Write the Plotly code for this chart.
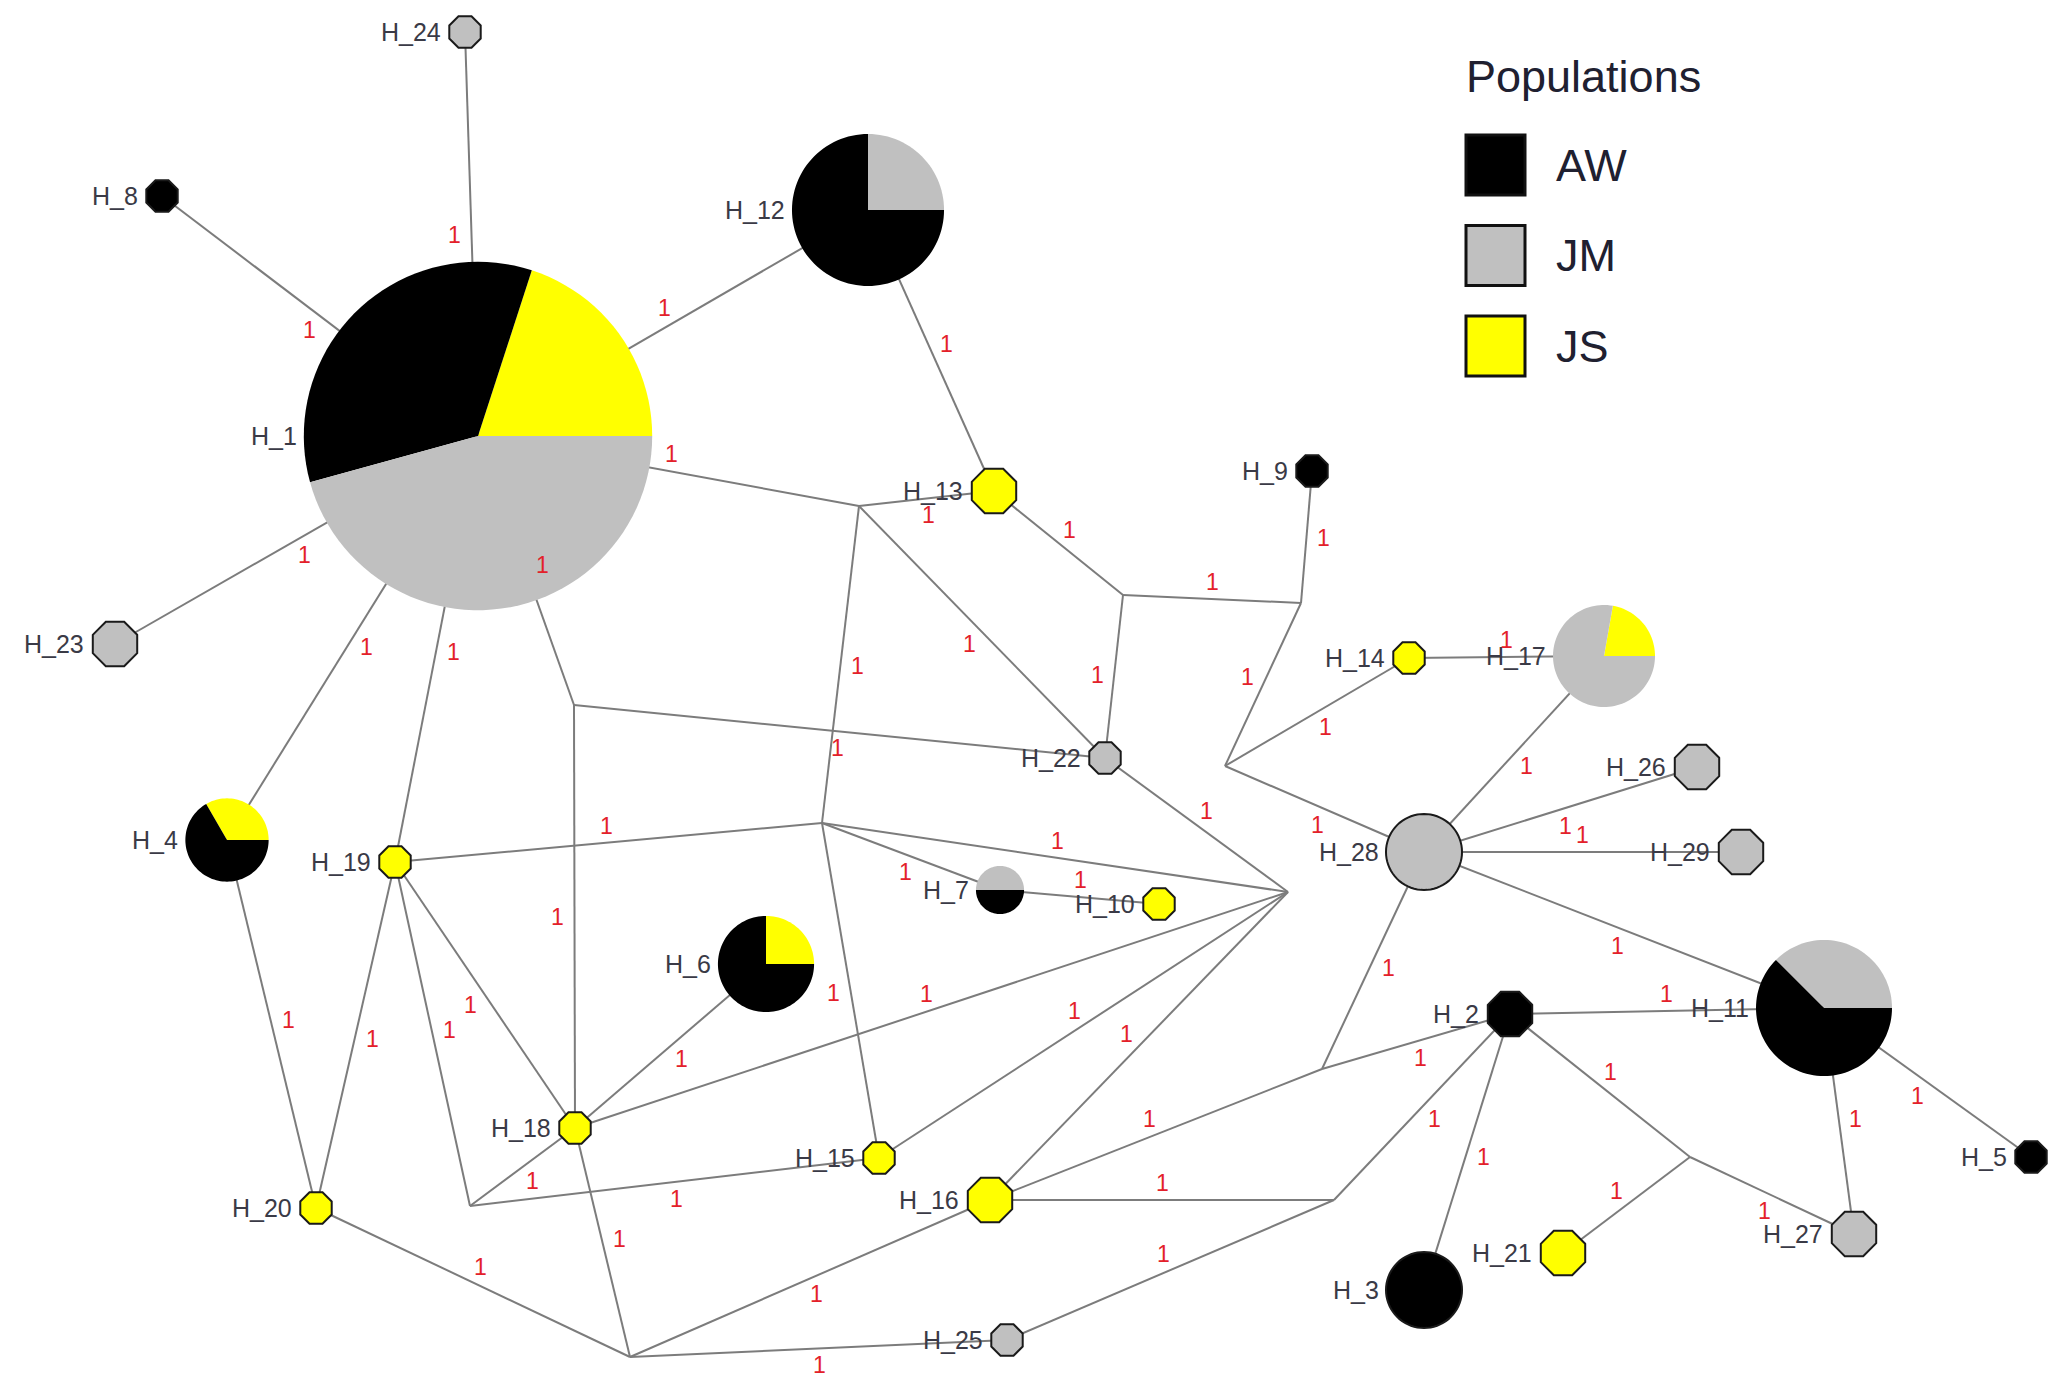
import math
import plotly.graph_objects as go

# ---------------------------------------------------------------
# Haplotype network: haplotypes, their layout and sample counts
# ---------------------------------------------------------------
populations = ["AW", "JM", "JS"]
pop_colors = {"AW": "#000000", "JM": "#c0c0c0", "JS": "#ffff00"}

haplotypes = ["H_1", "H_2", "H_3", "H_4", "H_5", "H_6", "H_7", "H_8", "H_9", "H_10",
              "H_11", "H_12", "H_13", "H_14", "H_15", "H_16", "H_17", "H_18", "H_19", "H_20",
              "H_21", "H_22", "H_23", "H_24", "H_25", "H_26", "H_27", "H_28", "H_29"]
hap_x = [478, 1510, 1424, 227, 2031, 766, 1000, 162, 1312, 1159,
         1824, 868, 994, 1409, 879, 990, 1604, 575, 395, 316,
         1563, 1105, 115, 465, 1007, 1697, 1854, 1424, 1741]
hap_y = [436, 1014, 1290, 840, 1157, 964, 890, 196, 471, 904,
         1008, 210, 491, 658, 1158, 1200, 656, 1128, 862, 1208,
         1253, 758, 644, 32, 1340, 767, 1234, 852, 852]
count_AW = [36, 2, 5, 4, 1, 6, 1, 1, 1, 0,
            10, 15, 0, 0, 0, 0, 0, 0, 0, 0,
            0, 0, 0, 0, 0, 0, 0, 0, 0]
count_JM = [48, 0, 0, 0, 0, 0, 1, 0, 0, 0,
            6, 5, 0, 0, 0, 0, 7, 0, 0, 0,
            0, 1, 2, 1, 1, 2, 2, 5, 2]
count_JS = [21, 0, 0, 2, 0, 2, 0, 0, 0, 1,
            0, 0, 2, 1, 1, 2, 2, 1, 1, 1,
            2, 0, 0, 0, 0, 0, 0, 0, 0]

# slices are laid counter-clockwise from east in this order
default_slice_order = ["JS", "JM", "AW"]
slice_order_override = {"H_1": ["JS", "AW", "JM"]}

# inferred median vectors (unsampled intermediate sequences)
median_names = ["mv_a", "mv_b", "mv_c", "mv_d", "mv_e", "mv_f",
                "mv_g", "mv_h", "mv_i", "mv_k", "mv_l", "mv_m"]
median_x = [859, 574, 822, 1123, 1301, 1225, 1288, 1322, 1690, 1334, 470, 630]
median_y = [506, 705, 823, 595, 603, 766, 892, 1069, 1157, 1200, 1206, 1357]

# edges: (from, to, number of mutations)
edges = [
    ("H_1", "H_24", 1), ("H_1", "H_8", 1), ("H_1", "H_12", 1), ("H_12", "H_13", 1),
    ("H_1", "mv_a", 1), ("H_13", "mv_a", 1), ("H_1", "H_23", 1), ("H_1", "H_4", 1),
    ("H_1", "H_19", 1), ("H_1", "mv_b", 1), ("mv_a", "mv_c", 1), ("H_22", "mv_a", 1),
    ("H_13", "mv_d", 1), ("mv_d", "mv_e", 1), ("H_9", "mv_e", 1), ("H_22", "mv_d", 1),
    ("mv_f", "mv_e", 1), ("H_14", "mv_f", 1), ("H_28", "mv_f", 1), ("H_14", "H_17", 1),
    ("H_17", "H_28", 1), ("H_26", "H_28", 1), ("H_28", "H_29", 1), ("H_11", "H_28", 1),
    ("H_28", "mv_h", 1), ("H_22", "mv_g", 1), ("H_22", "mv_b", 1), ("H_18", "mv_b", 1),
    ("H_19", "mv_c", 1), ("mv_c", "mv_g", 1), ("H_7", "mv_c", 1), ("H_15", "mv_c", 1),
    ("H_7", "H_10", 1), ("H_18", "mv_g", 1), ("H_15", "mv_g", 1), ("H_16", "mv_g", 1),
    ("H_4", "H_20", 1), ("H_19", "H_20", 1), ("H_19", "mv_l", 1), ("H_18", "H_19", 1),
    ("H_6", "H_18", 1), ("H_18", "mv_l", 1), ("H_18", "mv_m", 1), ("H_15", "mv_l", 1),
    ("H_20", "mv_m", 1), ("H_16", "mv_m", 1), ("H_25", "mv_m", 1), ("H_16", "mv_h", 1),
    ("H_16", "mv_k", 1), ("H_25", "mv_k", 1), ("H_2", "mv_k", 1), ("H_2", "mv_h", 1),
    ("H_2", "H_11", 1), ("H_2", "H_3", 1), ("H_2", "mv_i", 1), ("H_21", "mv_i", 1),
    ("H_27", "mv_i", 1), ("H_11", "H_27", 1), ("H_5", "H_11", 1),
]

# ---------------------------------------------------------------
# drawing helpers
# ---------------------------------------------------------------
W, H = 2053, 1382
RADIUS_UNIT = 17.0          # radius of a single-sample node
LABEL_OFFSET = 17.0         # mutation label distance from its edge
EDGE_COLOR = "#7c7c7c"
TEXT_COLOR = "#3a3a46"
MUT_COLOR = "#e3202a"
FONT = "Liberation Sans, Arial, sans-serif"

pos = {}
for n, x, y in zip(haplotypes, hap_x, hap_y):
    pos[n] = (x, y)
for n, x, y in zip(median_names, median_x, median_y):
    pos[n] = (x, y)


def pt(cx, cy, r, deg):
    a = math.radians(deg)
    return cx + r * math.cos(a), cy - r * math.sin(a)


def polygon_path(points):
    s = "M {:.2f},{:.2f}".format(*points[0])
    for p in points[1:]:
        s += " L {:.2f},{:.2f}".format(*p)
    return s + " Z"


def node_outline(cx, cy, r):
    if r < 30:
        return [pt(cx, cy, r, 22.5 + 45 * k) for k in range(8)]
    return [pt(cx, cy, r, 360.0 * k / 72) for k in range(72)]


def wedge(cx, cy, r, a0, a1):
    steps = max(4, int(abs(a1 - a0) / 3))
    pts = [(cx, cy)]
    for k in range(steps + 1):
        pts.append(pt(cx, cy, r, a0 + (a1 - a0) * k / steps))
    return pts


fig = go.Figure()

# edges (node centre to node centre, covered by the nodes)
ex, ey = [], []
for a, b, m in edges:
    ex += [pos[a][0], pos[b][0], None]
    ey += [pos[a][1], pos[b][1], None]
fig.add_trace(go.Scatter(x=ex, y=ey, mode="lines",
                         line=dict(color=EDGE_COLOR, width=2),
                         hoverinfo="skip", showlegend=False))

shapes = []
annotations = []

# nodes: single-population nodes are outlined polygons, mixed ones are pies
for i, name in enumerate(haplotypes):
    cx, cy = hap_x[i], hap_y[i]
    counts = {"AW": count_AW[i], "JM": count_JM[i], "JS": count_JS[i]}
    total = sum(counts.values())
    r = RADIUS_UNIT * math.sqrt(total)
    present = [p for p in populations if counts[p] > 0]
    if len(present) == 1:
        shapes.append(dict(type="path", xref="x", yref="y", layer="above",
                           path=polygon_path(node_outline(cx, cy, r)),
                           fillcolor=pop_colors[present[0]],
                           line=dict(color="#1a1a1a", width=2)))
    else:
        order = slice_order_override.get(name, default_slice_order)
        ang = 0.0
        for p in order:
            if counts[p] == 0:
                continue
            span = 360.0 * counts[p] / total
            shapes.append(dict(type="path", xref="x", yref="y", layer="above",
                               path=polygon_path(wedge(cx, cy, r, ang, ang + span)),
                               fillcolor=pop_colors[p],
                               line=dict(width=0)))
            ang += span
    annotations.append(dict(x=cx - r - 5, y=cy, xref="x", yref="y", text=name,
                            showarrow=False, xanchor="right", yanchor="middle",
                            font=dict(family=FONT, size=25, color=TEXT_COLOR)))

# mutation counts beside each edge midpoint (left of the edge direction)
for a, b, m in edges:
    (x0, y0), (x1, y1) = pos[a], pos[b]
    dx, dy = x1 - x0, y1 - y0
    ln = math.hypot(dx, dy)
    nx, ny = dy / ln, -dx / ln
    annotations.append(dict(x=(x0 + x1) / 2 + LABEL_OFFSET * nx,
                            y=(y0 + y1) / 2 + LABEL_OFFSET * ny,
                            xref="x", yref="y", text=str(m), showarrow=False,
                            xanchor="center", yanchor="middle",
                            font=dict(family=FONT, size=23, color=MUT_COLOR)))

# legend block
annotations.append(dict(x=1464, y=76, xref="x", yref="y", text="Populations",
                        showarrow=False, xanchor="left", yanchor="middle",
                        font=dict(family=FONT, size=45, color="#202030")))
for k, p in enumerate(populations):
    yc = 165 + 90.5 * k
    shapes.append(dict(type="rect", xref="x", yref="y", layer="above",
                       x0=1466, x1=1525, y0=yc - 30, y1=yc + 30,
                       fillcolor=pop_colors[p], line=dict(color="#111111", width=3)))
    annotations.append(dict(x=1554, y=yc, xref="x", yref="y", text=p,
                            showarrow=False, xanchor="left", yanchor="middle",
                            font=dict(family=FONT, size=45, color="#202030")))

fig.update_layout(
    width=W, height=H,
    margin=dict(l=0, r=0, t=0, b=0),
    paper_bgcolor="white", plot_bgcolor="white",
    xaxis=dict(range=[0, W], visible=False, fixedrange=True),
    yaxis=dict(range=[H, 0], visible=False, fixedrange=True),
    shapes=shapes, annotations=annotations, showlegend=False,
)

fig.write_html("out.html", config={"displayModeBar": False})
